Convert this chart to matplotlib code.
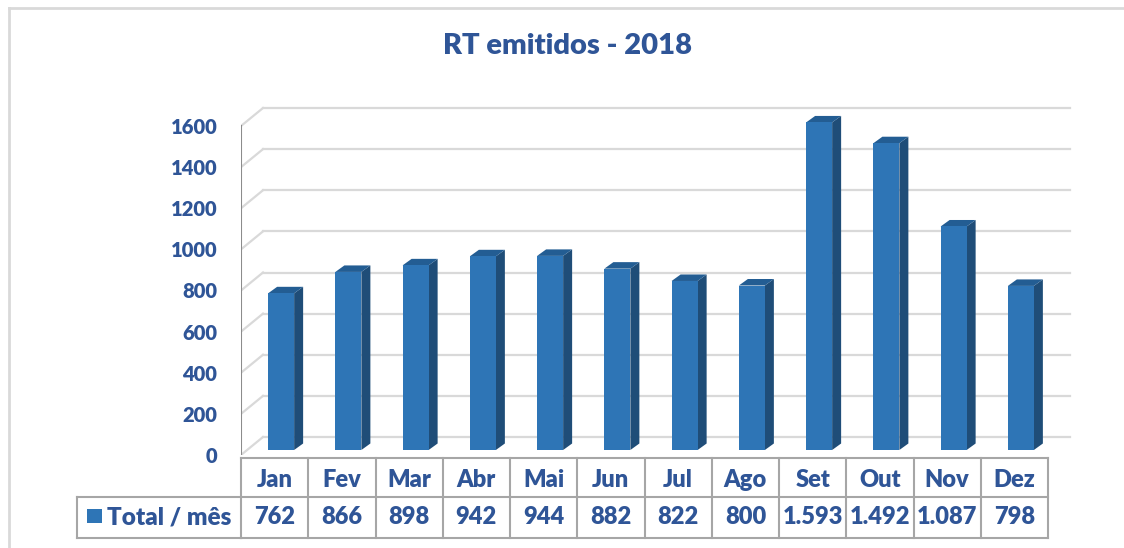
import numpy as np
import matplotlib
matplotlib.use("Agg")
from matplotlib import pyplot as plt
from matplotlib.patches import Polygon, Rectangle
from matplotlib.transforms import blended_transform_factory

months = ['Jan', 'Fev', 'Mar', 'Abr', 'Mai', 'Jun', 'Jul', 'Ago', 'Set', 'Out', 'Nov', 'Dez']
totals = [762, 866, 898, 942, 944, 882, 822, 800, 1593, 1492, 1087, 798]
total_labels = ['762', '866', '898', '942', '944', '882', '822', '800', '1.593', '1.492', '1.087', '798']
yticks = [0, 200, 400, 600, 800, 1000, 1200, 1400, 1600]
title = 'RT emitidos - 2018'
series_name = 'Total / mês'

W, H = 1124, 548
TXT = '#2F5597'
FRONT = '#2E75B6'
SIDE = '#1F4D78'
TOP = '#235D93'
GRID = '#D9D9D9'
WEIGHT = 'heavy'
plt.rcParams['font.family'] = ['Lato', 'DejaVu Sans']


def fx(px):
    return px / W


def fy(py):
    return 1 - py / H


fig = plt.figure(figsize=(W / 100, H / 100), dpi=100)
fig.patch.set_facecolor('white')

# chart border (only top/left visible in the crop)
fig.add_artist(plt.Line2D([fx(8.5), fx(8.5)], [fy(7.5), 0], color=GRID, lw=2))
fig.add_artist(plt.Line2D([fx(8.5), 1], [fy(7.5), fy(7.5)], color=GRID, lw=2))

# plot area: front plane x 241..1048 (12 categories), y 0 at 455, 1600 at 126
px_per_cat = (1048 - 241) / 12
px_per_val = (455 - 126) / 1600
ax_left, ax_right, ax_bottom, ax_top = 241, 1090, 455, 100
ax = fig.add_axes([fx(ax_left), fy(ax_bottom), (ax_right - ax_left) / W, (ax_bottom - ax_top) / H])
ax.set_xlim(-0.5, -0.5 + (ax_right - ax_left) / px_per_cat)
ax.set_ylim(0, (ax_bottom - ax_top) / px_per_val)
ax.patch.set_visible(False)
for s in ax.spines.values():
    s.set_visible(False)

# 3D depth offsets (converted from pixels to data units)
DX, DY = 22 / px_per_cat, 18 / px_per_val          # walls
BOX, BOY = 6.5 / px_per_cat, 5 / px_per_val         # bar position inside depth
BDX, BDY = 9 / px_per_cat, 6.5 / px_per_val         # bar depth
BW = 26 / px_per_cat

n = len(months)
for v in yticks:
    ax.plot([-0.5 + DX, n - 0.5 + DX], [v + DY, v + DY], color=GRID, lw=1.6, zorder=1)
    ax.plot([-0.5, -0.5 + DX], [v, v + DY], color=GRID, lw=1.6, zorder=1)
ax.plot([-0.5, -0.5], [0, 1600], color='#8C8C8C', lw=1.5, zorder=3)

for i, v in enumerate(totals):
    x0 = i - BW / 2 + BOX
    x1 = x0 + BW
    y0 = BOY
    y1 = BOY + v
    ax.add_patch(Polygon([(x1, y0), (x1 + BDX, y0 + BDY), (x1 + BDX, y1 + BDY), (x1, y1)],
                         closed=True, facecolor=SIDE, edgecolor='none', zorder=4))
    ax.add_patch(Polygon([(x0, y1), (x1, y1), (x1 + BDX, y1 + BDY), (x0 + BDX, y1 + BDY)],
                         closed=True, facecolor=TOP, edgecolor='none', zorder=4))
    ax.add_patch(Rectangle((x0, y0), BW, v, facecolor=FRONT, edgecolor='none', zorder=5))

ax.set_xticks([])
ax.set_yticks(yticks)
ax.set_yticklabels([str(t) for t in yticks], fontsize=14.5, fontweight=WEIGHT, color=TXT)
ax.tick_params(axis='y', length=0, pad=17)

fig.text(0.5047, fy(46), title, ha='center', va='center', fontsize=21, fontweight=WEIGHT, color=TXT)

# data table
tr = blended_transform_factory(ax.transData, fig.transFigure)
TB = '#A6A6A6'
r0, r1, r2 = fy(457.5), fy(496.5), fy(538)
ax.plot([-0.5, n - 0.5], [r0, r0], transform=tr, color=TB, lw=1.5, clip_on=False)
ax.plot([-0.5, n - 0.5], [r2, r2], transform=tr, color=TB, lw=1.5, clip_on=False)
fig.add_artist(plt.Line2D([fx(77), fx(1048)], [r1, r1], color=TB, lw=1.5))
fig.add_artist(plt.Line2D([fx(77), fx(77)], [r1, r2], color=TB, lw=1.5))
fig.add_artist(plt.Line2D([fx(77), fx(241)], [r2, r2], color=TB, lw=1.5))
for k in range(n + 1):
    ax.plot([k - 0.5, k - 0.5], [r0, r2], transform=tr, color=TB, lw=1.5, clip_on=False)
for i, (m, lab) in enumerate(zip(months, total_labels)):
    ax.text(i, fy(480), m, transform=tr, ha='center', va='center',
            fontsize=17, fontweight=WEIGHT, color=TXT)
    ax.text(i, fy(517), lab, transform=tr, ha='center', va='center',
            fontsize=17, fontweight=WEIGHT, color=TXT)

fig.add_artist(Rectangle((fx(87), fy(523)), 15 / W, 14 / H, facecolor=FRONT, edgecolor='none'))
fig.text(fx(107), fy(517), series_name, ha='left', va='center',
         fontsize=17.5, fontweight=WEIGHT, color=TXT)

fig.savefig('out.png', dpi=100, facecolor='white')
